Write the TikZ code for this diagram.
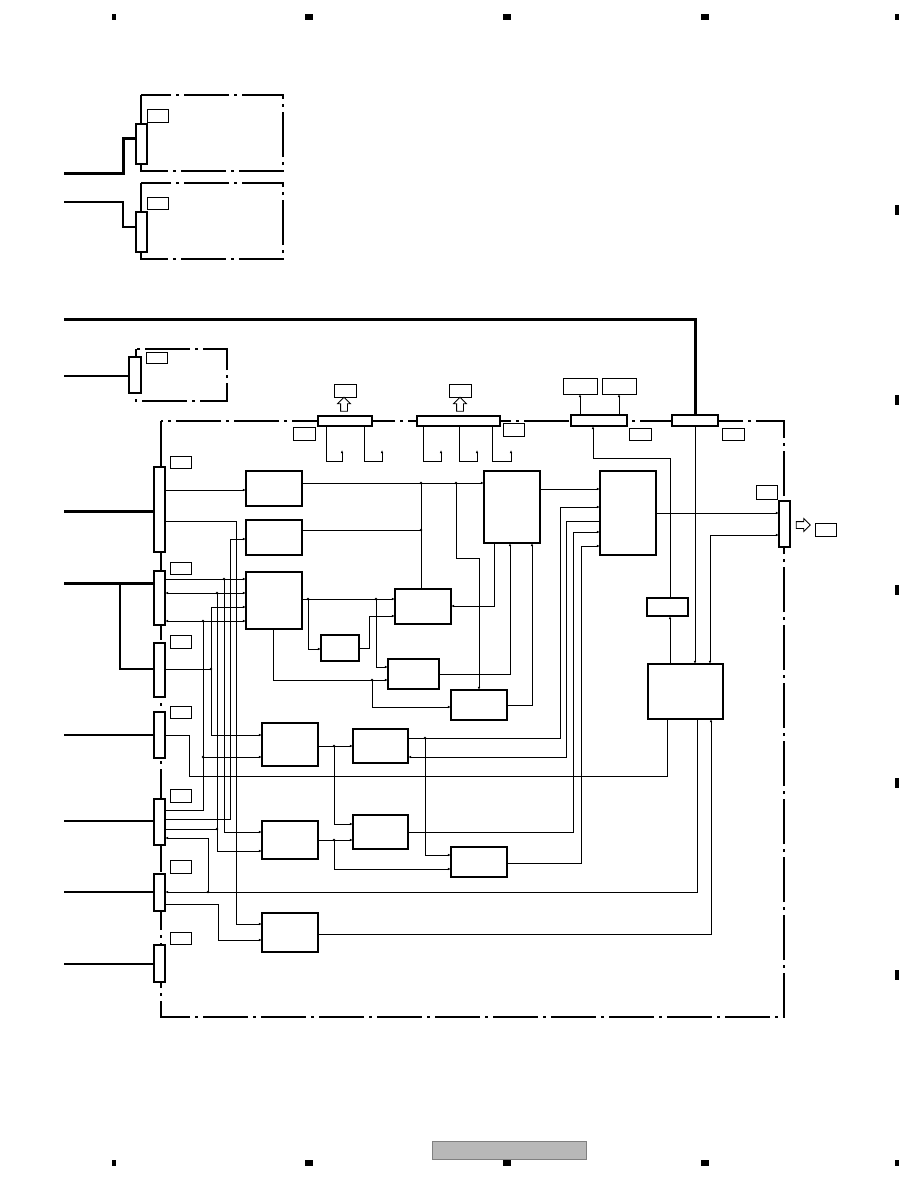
\documentclass[tikz,border=0pt]{standalone}
\usetikzlibrary{arrows.meta, shapes.arrows}
\tikzset{blk/.style={draw,line width=1.1pt,fill=white,anchor=north west,inner sep=0pt,outer sep=0pt},
    con/.style={blk,line width=1.7pt},
    lab/.style={blk,line width=0.8pt},
    frame/.style={line width=1.8pt,dash pattern=on 45pt off 5pt on 3pt off 5pt},
    bus/.style={line width=3pt},
    wire/.style={line width=2pt},
    sig/.style={line width=0.9pt},
    joint/.style={circle,fill=black,inner sep=0pt,minimum size=2.6pt},
    hollow/.style={single arrow,draw,line width=0.8pt,fill=white,inner sep=3pt,
        single arrow head extend=3pt,minimum height=14pt},
    regmark/.style={fill=black},
    >={Latex[length=3.2pt,width=2.6pt]}}

\begin{document}
\begin{tikzpicture}[x=1pt,y=-1pt]
    \useasboundingbox (0,0) rectangle (918,1188);
    % corner marks and page bar
    \foreach \x in {309,507,705}
        {\fill[regmark] (\x-4,14) rectangle (\x+4,20);
         \fill[regmark] (\x-4,1160) rectangle (\x+4,1166);}
    \foreach \x in {114,897}
        {\fill[regmark] (\x-2,14) rectangle (\x+2,20);
         \fill[regmark] (\x-2,1160) rectangle (\x+2,1166);}
    \foreach \y in {210,400,590,783,975}
        \fill[regmark] (895,\y-5) rectangle (899,\y+5);
    \draw[draw=black!50,fill=black!28,line width=0.8pt] (432,1141) rectangle (586,1159);

    % dash-dot frames
    \draw[frame] (141,95) rectangle (283,171);
    \draw[frame] (141,183) rectangle (283,259);
    \draw[frame] (136,349) rectangle (227,401);
    \draw[frame] (161,421) rectangle (784,1017);
    \draw[bus] (64,319) -| (695,415);

    % blocks
    \foreach \name/\x/\y/\w/\h in {K1/246/471/56/35, K2/246/520/56/35, K3/246/572/56/57,
        N/321/635/38/26, Q/395/589/56/35, S/388/659/51/30, R/451/690/56/30,
        F/484/471/56/72, E/600/471/56/84, I/647/598/41/18, H/648/664/75/55,
        M1/262/723/56/43, T/353/729/55/34, M2/262/821/56/38, V/353/815/55/34,
        U/451/847/56/30, P/262/913/56/39}
        \node[blk,minimum width=\w pt,minimum height=\h pt] (\name) at (\x,\y) {};
    % connectors
    \foreach \name/\x/\y/\w/\h in {c1/136/124/11/40, c2/136/212/11/40, c3/129/357/12/36,
        J1/154/467/11/85, J2/154/571/11/54, J3/154/643/11/54, J4/154/712/11/46,
        J5/154/799/11/46, J6/154/874/11/37, J7/154/945/11/37, G/779/501/11/46,
        cA/318/416/54/10, cB/417/416/83/10, cC/571/415/56/11, cD/672/415/46/11}
        \node[con,minimum width=\w pt,minimum height=\h pt] (\name) at (\x,\y) {};
    % small labels
    \foreach \name/\x/\y/\w/\h in {l1/147/109/21/13, l2/147/197/21/12, l3/146/352/21/11,
        lA/334/384/22/13, lA2/293/427/22/13, lB/449/384/22/13, lB2/503/423/21/13,
        lC/629/428/22/12, lD/722/428/22/12, lJ1/170/456/21/12, lJ2/170/562/21/12,
        lJ3/170/635/21/13, lJ4/170/706/21/12, lJ5/170/789/21/13, lJ6/170/860/21/13,
        lJ7/170/932/21/12, lG/756/485/21/14, lOut/815/523/21/13,
        tC1/563/378/34/16, tC2/602/378/34/16}
        \node[lab,minimum width=\w pt,minimum height=\h pt] (\name) at (\x,\y) {};

    \node[hollow,shape border rotate=90] (hA) at (344,406) {};
    \node[hollow,shape border rotate=90] (hB) at (460,406) {};
    \node[hollow] (hG) at (801.5,525) {};

    % input wires
    \draw[bus] (64,173) -| (123,139) -- (c1.west |- 0,139);
    \draw[wire] (64,202) -| (123,227) -- (c2.west |- 0,227);
    \draw[wire] (64,376) -- (c3.west |- 0,376);
    \draw[bus] (64,511) -- (J1.west |- 0,511);
    \draw[bus] (64,583) -- (J2.west |- 0,583);
    \draw[wire] (120,583) |- (J3.west |- 0,669);
    \draw[wire] (64,735) -- (J4.west |- 0,735);
    \draw[wire] (64,821) -- (J5.west |- 0,821);
    \draw[wire] (64,892) -- (J6.west |- 0,892);
    \draw[wire] (64,964) -- (J7.west |- 0,964);

    % bus taps
    \draw[sig,->] (cA.south -| 326,0) |- (342,461) -- (342,450);
    \draw[sig,->] (cA.south -| 364,0) |- (382,461) -- (382,450);
    \draw[sig,->] (cB.south -| 423,0) |- (441,461) -- (441,450);
    \draw[sig,->] (cB.south -| 459,0) |- (477,461) -- (477,450);
    \draw[sig,->] (cB.south -| 492,0) |- (511,461) -- (511,450);
    \draw[sig,->] (cC.north -| 580,0) -- (tC1.south -| 580,0);
    \draw[sig,->] (cC.north -| 619,0) -- (tC2.south -| 619,0);

    % left side signals
    \draw[sig,->] (J1.east |- 0,490) -- (K1.west |- 0,490);
    \draw[sig,->] (J1.east |- 0,521) -| (236,924) -- (P.west |- 0,924);
    \draw[sig,->] (J5.east |- 0,819) -| (230,539) -- (K2.west |- 0,539);
    \draw[sig,->] (J2.east |- 0,579) -- (K3.west |- 0,579);
    \draw[sig,->] (224,579) |- (M2.west |- 0,832);
    \draw[sig,<->] (J2.east |- 0,593) -- (K3.west |- 0,593);
    \draw[sig,->] (217,593) |- (M2.west |- 0,851);
    \draw[sig] (J5.east |- 0,829) -- (217,829);
    \draw[sig] (J3.east |- 0,669) -- (211,669);
    \draw[sig,->] (211,669) |- (K3.west |- 0,607);
    \draw[sig,->] (211,669) |- (M1.west |- 0,735);
    \draw[sig,<->] (J2.east |- 0,621) -- (K3.west |- 0,621);
    \draw[sig] (203,621) |- (J5.east |- 0,810);
    \draw[sig,->] (203,757) -- (M1.west |- 0,757);
    \draw[sig,->] (J6.east |- 0,904) -| (218,940) -- (P.west |- 0,940);
    \draw[sig] (H.south -| 667,0) |- (189,776) |- (J4.east |- 0,735);
    \draw[sig,->] (H.south -| 697,0) |- (J6.east |- 0,892);
    \draw[sig,->] (208,892) |- (J5.east |- 0,838);

    % middle signals
    \draw[sig,->] (K1.east |- 0,483) -- (F.west |- 0,483);
    \draw[sig] (K2.east |- 0,530) -- (421,530);
    \draw[sig] (421,483) -- (Q.north -| 421,0);
    \draw[sig,->] (456,483) |- (479,558) -- (R.north -| 479,0);
    \draw[sig,->] (K3.east |- 0,599) -- (Q.west |- 0,599);
    \draw[sig,->] (308,599) |- (N.west |- 0,649);
    \draw[sig,->] (N.east |- 0,648) -| (369,616) -- (Q.west |- 0,616);
    \draw[sig,->] (376,599) |- (S.west |- 0,667);
    \draw[sig,->] (K3.south -| 273,0) |- (S.west |- 0,680);
    \draw[sig,->] (372,680) |- (R.west |- 0,707);
    \draw[sig,->] (F.south -| 494,0) |- (Q.east |- 0,606);
    \draw[sig,->] (S.east |- 0,674) -| (F.south -| 510,0);
    \draw[sig,->] (R.east |- 0,705) -| (F.south -| 532,0);
    \draw[sig,->] (F.east |- 0,489) -- (E.west |- 0,489);
    \draw[sig,->] (M1.east |- 0,746) -- (T.west |- 0,746);
    \draw[sig,->] (334,746) |- (V.west |- 0,824);
    \draw[sig,->] (M2.east |- 0,840) -- (V.west |- 0,840);
    \draw[sig,->] (334,840) |- (U.west |- 0,869);
    \draw[sig,->] (T.east |- 0,738) -| (560,507) -- (E.west |- 0,507);
    \draw[sig,->] (425,738) |- (U.west |- 0,855);
    \draw[sig,->] (E.west |- 0,521) -| (566,757) -- (T.east |- 0,757);
    \draw[sig,->] (V.east |- 0,832) -| (573,532) -- (E.west |- 0,532);
    \draw[sig,->] (U.east |- 0,863) -| (581,546) -- (E.west |- 0,546);

    % right side signals
    \draw[sig,->] (E.east |- 0,513) -- (G.west |- 0,513);
    \draw[sig,<->] (H.north -| 710,0) |- (G.west |- 0,535);
    \draw[sig,->] (cD.south -| 695,0) -- (H.north -| 695,0);
    \draw[sig,->] (H.north -| 670,0) -- (I.south -| 670,0);
    \draw[sig,->] (I.north -| 670,0) |- (593,458) -- (cC.south -| 593,0);
    \draw[sig,->] (P.east |- 0,934) -| (H.south -| 711,0);

    \foreach \pos in {{(224,579)}, {(217,593)}, {(217,829)}, {(211,669)}, {(203,621)},
        {(203,757)}, {(208,892)}, {(421,483)}, {(456,483)}, {(421,530)}, {(308,599)},
        {(376,599)}, {(372,680)}, {(334,746)}, {(334,840)}, {(425,738)}}
        \node[joint] at \pos {};
\end{tikzpicture}
\end{document}
